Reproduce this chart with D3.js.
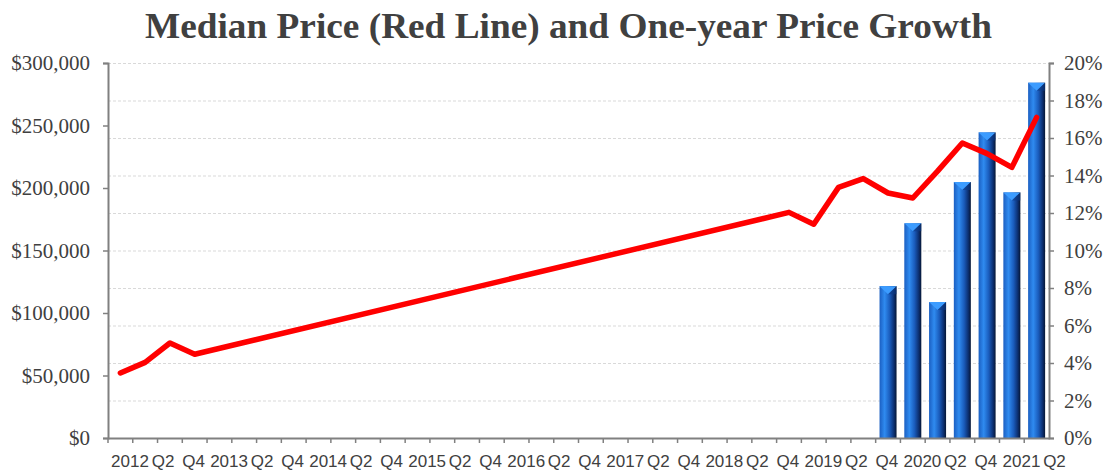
<!DOCTYPE html>
<html>
<head>
<meta charset="utf-8">
<script src="https://cdn.jsdelivr.net/npm/d3@7"></script>
<style>
  body { margin: 0; background: #fff; }
  svg { display: block; font-family: "Liberation Serif", "Times New Roman", serif; }
</style>
</head>
<body>
<div id="root"></div>
<script>
// quarterly categories, 2012 Q1 .. 2021 Q2
const quarters = [
  '2012 Q1', '2012 Q2', '2012 Q3', '2012 Q4',
  '2013 Q1', '2013 Q2', '2013 Q3', '2013 Q4',
  '2014 Q1', '2014 Q2', '2014 Q3', '2014 Q4',
  '2015 Q1', '2015 Q2', '2015 Q3', '2015 Q4',
  '2016 Q1', '2016 Q2', '2016 Q3', '2016 Q4',
  '2017 Q1', '2017 Q2', '2017 Q3', '2017 Q4',
  '2018 Q1', '2018 Q2', '2018 Q3', '2018 Q4',
  '2019 Q1', '2019 Q2', '2019 Q3', '2019 Q4',
  '2020 Q1', '2020 Q2', '2020 Q3', '2020 Q4',
  '2021 Q1', '2021 Q2'
];

// median price (red line), gaps are connected
const medianPrice = [
  52000, 60500, 76000, 67000,
  null, null, null, null,
  null, null, null, null,
  null, null, null, null,
  null, null, null, null,
  null, null, null, null,
  null, null, null, 180500,
  171000, 200500, 207500, 196000,
  192000, 213500, 236000, 227500,
  216500, 256500
];

// one-year price growth, percent (bars)
const priceGrowth = [
  null, null, null, null,
  null, null, null, null,
  null, null, null, null,
  null, null, null, null,
  null, null, null, null,
  null, null, null, null,
  null, null, null, null,
  null, null, null, 8.1,
  11.45, 7.25, 13.65, 16.3,
  13.1, 18.95
];

// category labels printed under the axis (year, Q2, Q4 for each year)
const xTickLabels = [
  '2012', 'Q2', 'Q4', '2013', 'Q2', 'Q4', '2014', 'Q2', 'Q4',
  '2015', 'Q2', 'Q4', '2016', 'Q2', 'Q4', '2017', 'Q2', 'Q4',
  '2018', 'Q2', 'Q4', '2019', 'Q2', 'Q4', '2020', 'Q2', 'Q4',
  '2021', 'Q2'
];

const priceTicks = [0, 50000, 100000, 150000, 200000, 250000, 300000];
const growthTicks = [0, 2, 4, 6, 8, 10, 12, 14, 16, 18, 20];

const width = 1112, height = 471;
const plot = { left: 108, right: 1049, top: 63, bottom: 438 };
const textColor = '#404040';
const axisColor = '#808080';
// where the year / Q2 / Q4 label sits inside a year's four quarters
const labelOffsets = [22, 55, 85.5];

const svg = d3.select('#root').append('svg')
  .attr('width', width)
  .attr('height', height)
  .attr('viewBox', [0, 0, width, height]);

// gradient for the bars
const defs = svg.append('defs');
const grad = defs.append('linearGradient')
  .attr('id', 'barGrad')
  .attr('x1', '0%').attr('x2', '100%').attr('y1', '0%').attr('y2', '0%');
grad.append('stop').attr('offset', '0%').attr('stop-color', '#1b5fc2');
grad.append('stop').attr('offset', '30%').attr('stop-color', '#2f8bf0');
grad.append('stop').attr('offset', '60%').attr('stop-color', '#1a5cbc');
grad.append('stop').attr('offset', '85%').attr('stop-color', '#0c2f70');
grad.append('stop').attr('offset', '100%').attr('stop-color', '#061634');

// scales
const x = d3.scaleBand()
  .domain(quarters)
  .range([plot.left, plot.right])
  .paddingInner(0)
  .paddingOuter(0);

const yPrice = d3.scaleLinear()
  .domain([0, 300000])
  .range([plot.bottom, plot.top]);

const yGrowth = d3.scaleLinear()
  .domain([0, 20])
  .range([plot.bottom, plot.top]);

// gridlines (follow the right axis)
svg.append('g')
  .selectAll('line')
  .data(growthTicks.slice(1))
  .join('line')
  .attr('x1', plot.left)
  .attr('x2', plot.right)
  .attr('y1', d => yGrowth(d) + 0.5)
  .attr('y2', d => yGrowth(d) + 0.5)
  .attr('stroke', '#d9d9d9')
  .attr('stroke-width', 1)
  .attr('stroke-dasharray', '3,2');

// bars
const barData = quarters
  .map((q, i) => ({ q: q, v: priceGrowth[i] }))
  .filter(d => d.v !== null);
const barW = 17;

const bars = svg.append('g')
  .selectAll('g')
  .data(barData)
  .join('g')
  .attr('transform', d => `translate(${x(d.q) + x.bandwidth() / 2 - barW / 2},0)`);

bars.append('rect')
  .attr('x', 0)
  .attr('y', d => yGrowth(d.v))
  .attr('width', barW)
  .attr('height', d => plot.bottom - yGrowth(d.v))
  .attr('fill', 'url(#barGrad)');

// bevelled top of each bar
bars.append('path')
  .attr('d', d => {
    const t = yGrowth(d.v);
    return `M0,${t} L${barW},${t} L${barW / 2},${t + 8} Z`;
  })
  .attr('fill', '#3c9cff');
bars.append('path')
  .attr('d', d => {
    const t = yGrowth(d.v);
    return `M${barW},${t} L${barW / 2},${t + 8} L${barW},${t + 8} Z`;
  })
  .attr('fill', '#0e3a86')
  .attr('opacity', 0.6);

// red line, connected over the missing quarters
const lineData = quarters
  .map((q, i) => ({ q: q, v: medianPrice[i] }))
  .filter(d => d.v !== null);

const line = d3.line()
  .x(d => x(d.q) + x.bandwidth() / 2)
  .y(d => yPrice(d.v));

svg.append('path')
  .datum(lineData)
  .attr('d', line)
  .attr('fill', 'none')
  .attr('stroke', '#ff0000')
  .attr('stroke-width', 5.5)
  .attr('stroke-linejoin', 'round')
  .attr('stroke-linecap', 'round');

// left axis
const leftAxis = d3.axisLeft(yPrice)
  .tickValues(priceTicks)
  .tickSize(5)
  .tickPadding(13)
  .tickFormat(d => '$' + d3.format(',')(d));

const gLeft = svg.append('g')
  .attr('transform', `translate(${plot.left},0)`)
  .call(leftAxis);

// right axis
const rightAxis = d3.axisRight(yGrowth)
  .tickValues(growthTicks)
  .tickSize(5)
  .tickPadding(10)
  .tickFormat(d => d + '%');

const gRight = svg.append('g')
  .attr('transform', `translate(${plot.right},0)`)
  .call(rightAxis);

[gLeft, gRight].forEach(g => {
  g.select('.domain').attr('stroke', axisColor).attr('stroke-width', 2);
  g.selectAll('.tick line').attr('stroke', axisColor).attr('stroke-width', 1.5);
  g.selectAll('.tick text')
    .attr('fill', textColor)
    .attr('font-size', 21)
    .attr('font-family', '"Liberation Serif", "Times New Roman", serif');
});

// bottom axis: ticks at the quarter boundaries
const bottomAxis = d3.axisBottom(x)
  .tickSize(0)
  .tickFormat('');

const gBottom = svg.append('g')
  .attr('transform', `translate(0,${plot.bottom})`)
  .call(bottomAxis);
gBottom.select('.domain').attr('stroke', axisColor).attr('stroke-width', 2);

gBottom.append('g')
  .selectAll('line')
  .data(quarters)
  .join('line')
  .attr('x1', d => x(d))
  .attr('x2', d => x(d))
  .attr('y1', 0)
  .attr('y2', 5)
  .attr('stroke', axisColor)
  .attr('stroke-width', 1.5);

gBottom.append('g')
  .selectAll('text')
  .data(xTickLabels)
  .join('text')
  .attr('x', (d, i) => x(quarters[Math.floor(i / 3) * 4]) + labelOffsets[i % 3])
  .attr('y', 29)
  .attr('text-anchor', 'middle')
  .attr('fill', textColor)
  .attr('font-size', 17)
  .text(d => d);

// title
svg.append('text')
  .attr('x', 568.5)
  .attr('y', 38)
  .attr('text-anchor', 'middle')
  .attr('fill', textColor)
  .attr('font-size', 35)
  .attr('font-weight', 'bold')
  .attr('textLength', 847)
  .attr('lengthAdjust', 'spacingAndGlyphs')
  .text('Median Price (Red Line) and One-year Price Growth');
</script>
</body>
</html>
